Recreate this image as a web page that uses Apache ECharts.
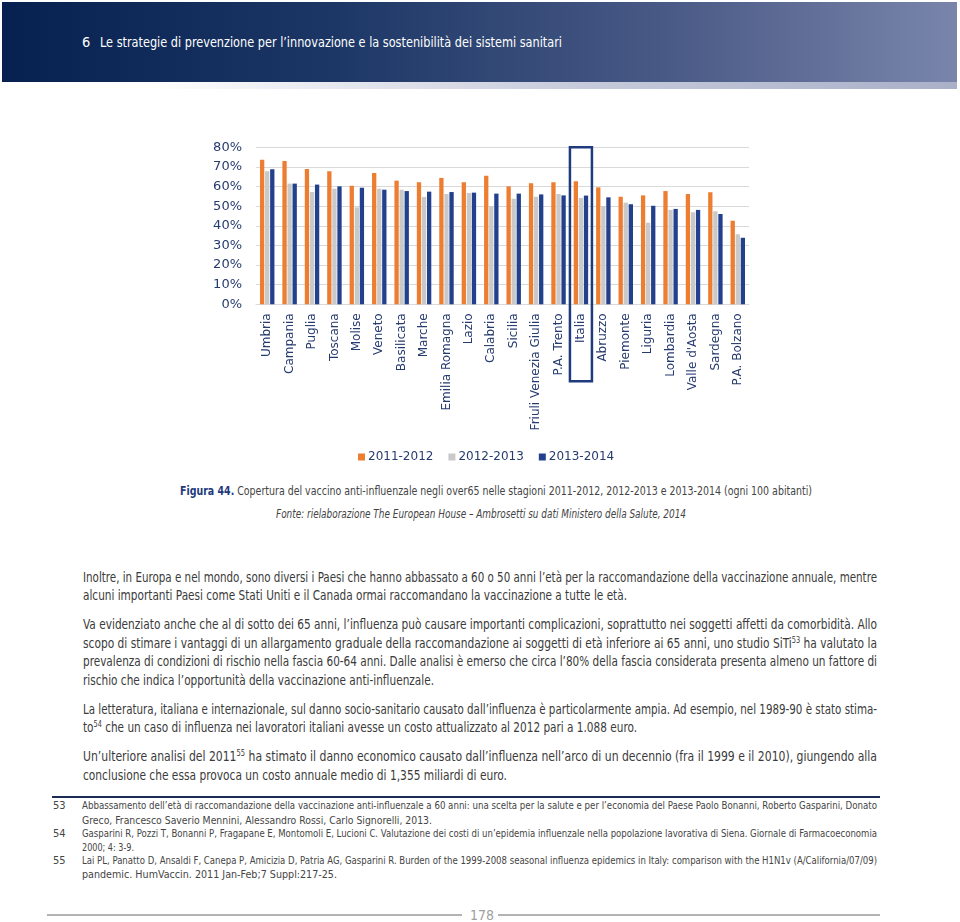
<!DOCTYPE html>
<html>
<head>
<meta charset="utf-8">
<script src="https://cdn.jsdelivr.net/npm/echarts@6/dist/echarts.min.js"></script>
<style>
  html, body { margin:0; padding:0; background:#fff; }
  body { width:960px; height:922px; position:relative; overflow:hidden;
         font-family:'Liberation Sans Narrow','DejaVu Sans Condensed','Liberation Sans',sans-serif; }
  #chart { position:absolute; left:0; top:0; width:960px; height:922px; z-index:2; }
  .ln { position:absolute; white-space:nowrap; display:inline-block; transform-origin:left center; }
  .body { font-size:13.5px; color:#3b3b3b; line-height:18px; }
  .fn { font-size:11px; color:#454545; line-height:14px; }
  sup { font-size:0.62em; line-height:0; vertical-align:0.55em; }
  #band { position:absolute; left:2px; top:2px; width:955px; height:80px;
          background:linear-gradient(to right,#06204f 0%,#1c3766 35%,#4a5a86 70%,#7985ab 100%); }
  #shadow { position:absolute; left:2px; top:82px; width:955px; height:7px;
            background:linear-gradient(to right,#ffffff 15%,#c7cbdb 60%,#a9b0c8 100%); }
  .hdr { color:#fff; font-size:14.5px; line-height:18px; }
  .rule { position:absolute; }
</style>
</head>
<body>
<div id="band"></div>
<div id="shadow"></div>
<div class="ln hdr" style="left:82px;top:33px;">6</div>
<div class="ln hdr fit" data-w="462" style="left:100px;top:33px;">Le strategie di prevenzione per l’innovazione e la sostenibilità dei sistemi sanitari</div>

<div class="ln fit" data-w="632" style="left:180px;top:483px;font-size:12.5px;line-height:16px;color:#444;"><b style="color:#1d3a7c;">Figura 44.</b> Copertura del vaccino anti-influenzale negli over65 nelle stagioni 2011-2012, 2012-2013 e 2013-2014 (ogni 100 abitanti)</div>
<div class="ln fit" data-w="410" style="left:276px;top:506px;font-size:12.5px;line-height:16px;color:#444;font-style:italic;">Fonte: rielaborazione The European House – Ambrosetti su dati Ministero della Salute, 2014</div>

<div class="ln body fit" data-w="794" style="left:83px;top:568px;">Inoltre, in Europa e nel mondo, sono diversi i Paesi che hanno abbassato a 60 o 50 anni l’età per la raccomandazione della vaccinazione annuale, mentre</div>
<div class="ln body fit" data-w="544" style="left:83px;top:586px;">alcuni importanti Paesi come Stati Uniti e il Canada ormai raccomandano la vaccinazione a tutte le età.</div>

<div class="ln body fit" data-w="794" style="left:83px;top:615px;">Va evidenziato anche che al di sotto dei 65 anni, l’influenza può causare importanti complicazioni, soprattutto nei soggetti affetti da comorbidità. Allo</div>
<div class="ln body fit" data-w="794" style="left:83px;top:634px;">scopo di stimare i vantaggi di un allargamento graduale della raccomandazione ai soggetti di età inferiore ai 65 anni, uno studio SiTi<sup>53</sup> ha valutato la</div>
<div class="ln body fit" data-w="794" style="left:83px;top:652px;">prevalenza di condizioni di rischio nella fascia 60-64 anni. Dalle analisi è emerso che circa l’80% della fascia considerata presenta almeno un fattore di</div>
<div class="ln body fit" data-w="351" style="left:83px;top:671px;">rischio che indica l’opportunità della vaccinazione anti-influenzale.</div>

<div class="ln body fit" data-w="794" style="left:83px;top:700px;">La letteratura, italiana e internazionale, sul danno socio-sanitario causato dall’influenza è particolarmente ampia. Ad esempio, nel 1989-90 è stato stima-</div>
<div class="ln body fit" data-w="554" style="left:83px;top:718px;">to<sup>54</sup> che un caso di influenza nei lavoratori italiani avesse un costo attualizzato al 2012 pari a 1.088 euro.</div>

<div class="ln body fit" data-w="794" style="left:83px;top:747px;">Un’ulteriore analisi del 2011<sup>55</sup> ha stimato il danno economico causato dall’influenza nell’arco di un decennio (fra il 1999 e il 2010), giungendo alla</div>
<div class="ln body fit" data-w="424" style="left:83px;top:766px;">conclusione che essa provoca un costo annuale medio di 1,355 miliardi di euro.</div>

<div class="rule" style="left:52px;top:796px;width:828px;height:2px;background:#1c2c55;"></div>

<div class="ln fn" style="left:53px;top:799px;">53</div>
<div class="ln fn fit" data-w="795" style="left:82px;top:799px;">Abbassamento dell’età di raccomandazione della vaccinazione anti-influenzale a 60 anni: una scelta per la salute e per l’economia del Paese Paolo Bonanni, Roberto Gasparini, Donato</div>
<div class="ln fn fit" data-w="350" style="left:82px;top:814px;">Greco, Francesco Saverio Mennini, Alessandro Rossi, Carlo Signorelli, 2013.</div>
<div class="ln fn" style="left:53px;top:827px;">54</div>
<div class="ln fn fit" data-w="795" style="left:82px;top:827px;">Gasparini R, Pozzi T, Bonanni P, Fragapane E, Montomoli E, Lucioni C. Valutazione dei costi di un’epidemia influenzale nella popolazione lavorativa di Siena. Giornale di Farmacoeconomia</div>
<div class="ln fn fit" data-w="52" style="left:82px;top:841px;">2000; 4: 3-9.</div>
<div class="ln fn" style="left:53px;top:854px;">55</div>
<div class="ln fn fit" data-w="795" style="left:82px;top:854px;">Lai PL, Panatto D, Ansaldi F, Canepa P, Amicizia D, Patria AG, Gasparini R. Burden of the 1999-2008 seasonal influenza epidemics in Italy: comparison with the H1N1v (A/California/07/09)</div>
<div class="ln fn fit" data-w="255" style="left:82px;top:868px;">pandemic. HumVaccin. 2011 Jan-Feb;7 Suppl:217-25.</div>

<div class="rule" style="left:47px;top:914px;width:415px;height:2px;background:#b3b3b3;"></div>
<div class="rule" style="left:498px;top:914px;width:382px;height:2px;background:#b3b3b3;"></div>
<div class="ln" style="left:470px;top:906px;font-size:14px;line-height:18px;color:#a0a0a0;">178</div>

<div id="chart"></div>

<script>
// ---------- data ----------
const categories = ['Umbria','Campania','Puglia','Toscana','Molise','Veneto','Basilicata','Marche',
  'Emilia Romagna','Lazio','Calabria','Sicilia','Friuli Venezia Giulia','P.A. Trento','Italia',
  'Abruzzo','Piemonte','Liguria','Lombardia',"Valle d'Aosta",'Sardegna','P.A. Bolzano'];
const seasons = ['2011-2012','2012-2013','2013-2014'];
const cov2011_2012 = [73.7,73.0,68.9,67.8,60.4,66.9,63.0,62.2,64.4,62.2,65.5,60.1,61.7,62.2,62.7,59.6,54.8,55.5,57.7,56.2,57.1,42.6];
const cov2012_2013 = [67.8,61.5,57.2,58.9,49.4,58.9,58.4,54.7,56.2,56.7,49.9,53.8,54.8,56.2,54.2,50.1,51.8,41.6,48.1,46.9,47.4,35.7];
const cov2013_2014 = [68.8,61.5,61.0,60.1,59.4,58.4,57.7,57.4,57.2,56.9,56.4,56.4,56.0,55.5,55.4,54.5,51.0,50.2,48.6,48.1,46.0,33.9];
const yTicks = [0,10,20,30,40,50,60,70,80];
const highlighted = 'Italia';

// ---------- chart ----------
const colors = ['#ED7D31','#C9C9C9','#22408C'];
const navy = '#263B6E';
const chart = echarts.init(document.getElementById('chart'), null, {renderer:'canvas'});
const seriesData = [cov2011_2012, cov2012_2013, cov2013_2014];
chart.setOption({
  animation:false,
  backgroundColor:'transparent',
  color:colors,
  legend:{
    data:seasons, left:353, top:446, icon:'rect', itemWidth:7, itemHeight:7, itemGap:15,
    textStyle:{fontFamily:'DejaVu Sans', fontSize:12, color:navy, padding:[0,0,0,-2]}
  },
  grid:{left:256, top:147.3, width:493, height:157, containLabel:false},
  xAxis:{
    type:'category', data:categories,
    axisLine:{show:true, lineStyle:{color:'#d9d9d9', width:1}},
    axisTick:{show:false},
    axisLabel:{rotate:90, interval:0, margin:9, fontFamily:'DejaVu Sans', fontSize:12, color:navy}
  },
  yAxis:{
    type:'value', min:yTicks[0], max:yTicks[yTicks.length-1], interval:10,
    axisLine:{show:false}, axisTick:{show:false},
    splitLine:{lineStyle:{color:'#d9d9d9', width:1}},
    axisLabel:{formatter:'{value}%', margin:14, fontFamily:'DejaVu Sans', fontSize:13, color:navy}
  },
  series: seasons.map((s,i)=>({
    name:s, type:'bar', data:seriesData[i], barWidth:4.3, barGap:'18%',
    itemStyle:{color:colors[i]}
  }))
});
const cx = chart.convertToPixel({xAxisIndex:0}, highlighted);
const yTop = chart.convertToPixel({yAxisIndex:0}, yTicks[yTicks.length-1]);
const y0 = chart.convertToPixel({yAxisIndex:0}, 0);
chart.setOption({
  graphic:[{type:'rect', shape:{x:cx-11, y:yTop, width:22, height:(y0-yTop)+77},
    style:{fill:'none', stroke:'#1F3B7E', lineWidth:2.5}, z:100}]
});

// ---------- fit text lines to measured widths ----------
function fitLines(){
  document.querySelectorAll('.fit').forEach(el=>{
    el.style.transform='none';
    const w = el.getBoundingClientRect().width;
    const t = parseFloat(el.dataset.w);
    if (w>0) el.style.transform = 'scaleX(' + (t/w) + ')';
  });
}
fitLines();
if (document.fonts && document.fonts.ready) document.fonts.ready.then(fitLines);
</script>
</body>
</html>
